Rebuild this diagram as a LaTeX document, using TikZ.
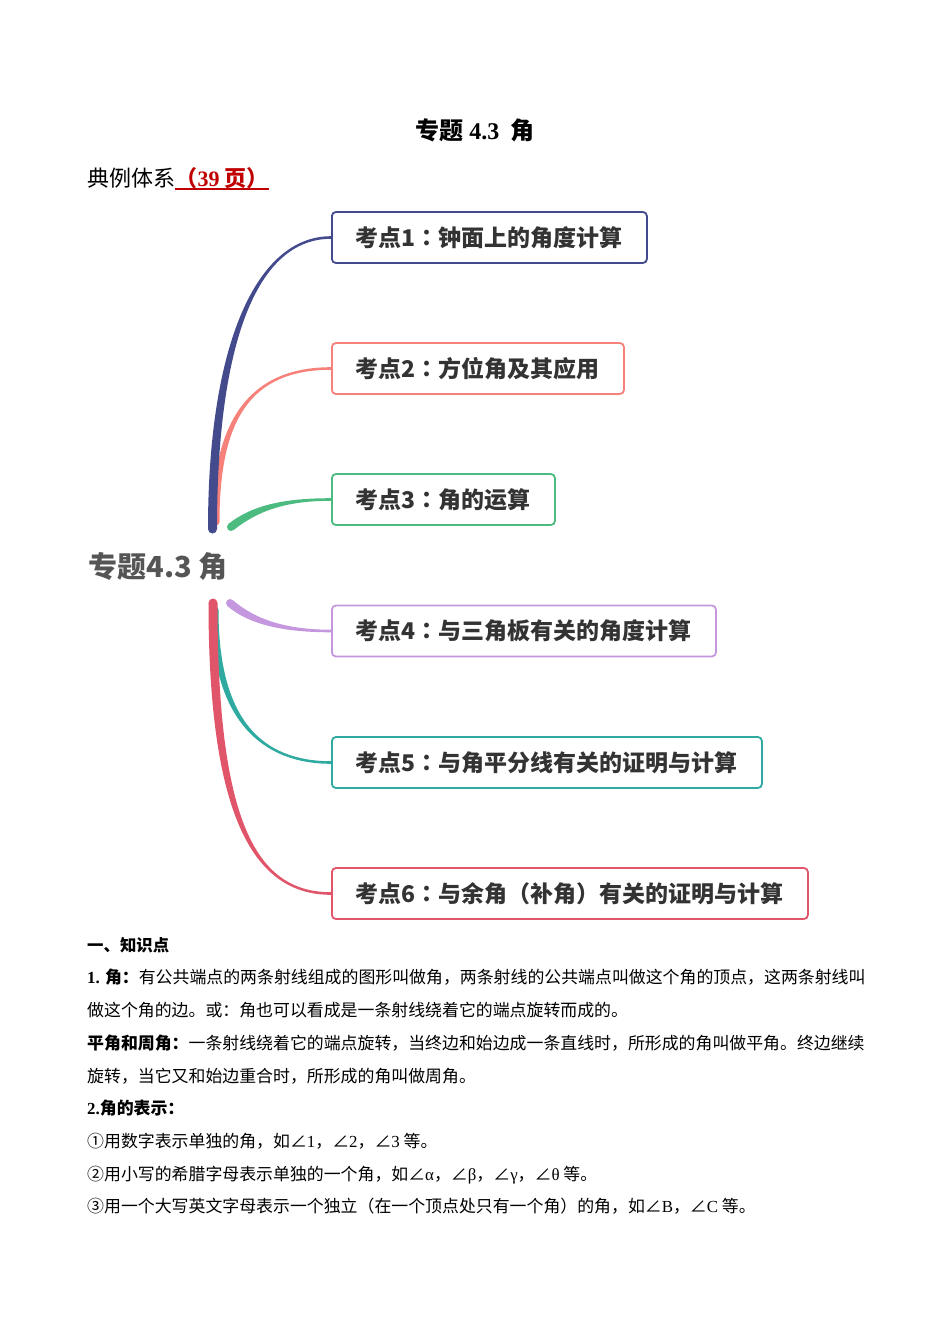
\documentclass[tikz,border=0pt]{standalone}
\usepackage{fontspec}
\setmainfont{Liberation Serif}
\newfontfamily\cjk{Noto Sans CJK SC}
\newfontfamily\cjktc{Noto Sans CJK TC}
\usetikzlibrary{calc}

\definecolor{kdblue}{RGB}{67,75,140}
\definecolor{kdpink}{RGB}{246,128,122}
\definecolor{kdgreen}{RGB}{76,187,127}
\definecolor{kdpurple}{RGB}{197,151,223}
\definecolor{kdteal}{RGB}{47,170,160}
\definecolor{kdred}{RGB}{224,85,106}
\definecolor{txtgray}{RGB}{51,51,51}
\definecolor{rootgray}{RGB}{85,85,85}
\definecolor{pagered}{RGB}{192,0,0}

\newcommand{\tm}[1]{{\rmfamily #1}}
\newcommand{\tc}[1]{{\cjktc #1}}
% tapered branch: colour, from, to, control 1, control 2, half width at root
\newcommand{\branch}[6]{%
  \path (#2) coordinate (b0) (#4) coordinate (b1) (#5) coordinate (b2) (#3) coordinate (b3);
  \fill[#1] ($(b0)!#6!90:(b1)$) .. controls ($(b1)!#6!-90:(b0)$) and ($(b2)!1.3pt!90:(b3)$) .. ($(b3)!1.3pt!-90:(b2)$)
    -- ($(b3)!1.3pt!90:(b2)$) .. controls ($(b2)!1.3pt!-90:(b3)$) and ($(b1)!#6!90:(b0)$) .. ($(b0)!#6!-90:(b1)$) -- cycle;
  \fill[#1] (b0) circle[radius=#6];
}

\begin{document}
\begin{tikzpicture}[x=1pt, y=-1pt,
    point/.style={draw=#1, line width=1.8pt, rounded corners=4pt, inner xsep=24pt, minimum height=51pt,
      anchor=west, text=txtgray, font=\cjk\bfseries\fontsize{23}{23}\selectfont},
    para/.style={anchor=base west, inner sep=0pt, font=\cjk\fontsize{16.9}{20}\selectfont}
  ]
  \useasboundingbox (0,0) rectangle (950,1344);

  % heading
  \node[font=\cjk\bfseries\fontsize{24}{24}\selectfont] (title) at (475,130) {专题 \tm{4.3}\ \ 角};
  \node[anchor=base west, inner sep=0pt, font=\cjk\fontsize{22}{22}\selectfont] (sys) at (87,186) {典例体系};
  \node[anchor=base west, inner sep=0pt, text=pagered, font=\cjk\bfseries\fontsize{22}{22}\selectfont] (pg) at (sys.base east) {（\tm{39} 页）};
  \draw[pagered, line width=1.2pt] ($(pg.base west)+(0,3)$) -- ($(pg.base east)+(0,3)$);

  % mind map
  \node[inner sep=0pt, text=rootgray, font=\cjk\bfseries\fontsize{29}{29}\selectfont] (root) at (158,566) {专题4.3 角};

  \node[point=kdblue] (k1) at (331,237.5) {考点1\tc{：}钟面上的角度计算};
  \node[point=kdpink] (k2) at (331,368.5) {考点2\tc{：}方位角及其应用};
  \node[point=kdgreen] (k3) at (331,499.5) {考点3\tc{：}角的运算};
  \node[point=kdpurple] (k4) at (331,631) {考点4\tc{：}与三角板有关的角度计算};
  \node[point=kdteal] (k5) at (331,762.5) {考点5\tc{：}与角平分线有关的证明与计算};
  \node[point=kdred] (k6) at (331,893.5) {考点6\tc{：}与余角\tc{（}补角\tc{）}有关的证明与计算};

  \coordinate (r1) at (212.5,529);
  \coordinate (r2) at (216,522);
  \coordinate (r3) at (231,527);
  \coordinate (r4) at (230,603);
  \coordinate (r5) at (215,610);
  \coordinate (r6) at (213,603);

  \branch{kdpink}{r2}{k2.west}{216,420}{250,368.5}{3.5pt}
  \branch{kdblue}{r1}{k1.west}{212.5,345}{256,237.5}{4.5pt}
  \branch{kdgreen}{r3}{k3.west}{255,508}{285,499.5}{4pt}
  \branch{kdpurple}{r4}{k4.west}{252,622}{285,631}{4pt}
  \branch{kdteal}{r5}{k5.west}{215,720}{262,762.5}{3.5pt}
  \branch{kdred}{r6}{k6.west}{213,820}{255,893.5}{4.5pt}

  % text
  \node[para, font=\cjk\bfseries\fontsize{16.4}{20}\selectfont] (l1) at (87,951) {一、知识点};
  \node[para] (l2) at (87,983) {\textbf{\tm{1.} 角：}有公共端点的两条射线组成的图形叫做角，两条射线的公共端点叫做这个角的顶点，这两条射线叫};
  \node[para] (l3) at (87,1016) {做这个角的边。或：角也可以看成是一条射线绕着它的端点旋转而成的。};
  \node[para] (l4) at (87,1049) {\textbf{平角和周角：}一条射线绕着它的端点旋转，当终边和始边成一条直线时，所形成的角叫做平角。终边继续};
  \node[para] (l5) at (87,1082) {旋转，当它又和始边重合时，所形成的角叫做周角。};
  \node[para] (l6) at (87,1114) {\textbf{\tm{2.}角的表示：}};
  \node[para] (l7) at (87,1147) {①用数字表示单独的角，如∠\tm{1}，∠\tm{2}，∠\tm{3} 等。};
  \node[para] (l8) at (87,1180) {②用小写的希腊字母表示单独的一个角，如∠\tm{α}，∠\tm{β}，∠\tm{γ}，∠\tm{θ} 等。};
  \node[para] (l9) at (87,1212) {③用一个大写英文字母表示一个独立（在一个顶点处只有一个角）的角，如∠\tm{B}，∠\tm{C} 等。};
\end{tikzpicture}
\end{document}
